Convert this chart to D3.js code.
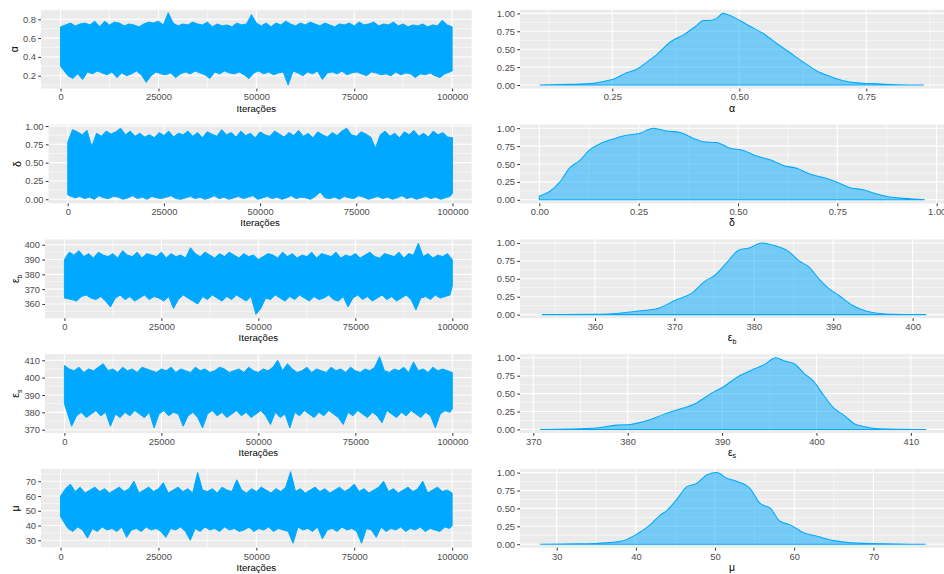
<!DOCTYPE html>
<html><head><meta charset="utf-8">
<script src="https://cdn.jsdelivr.net/npm/d3@7"></script>
<style>
body{margin:0;background:#fff}
svg{display:block}
text{font-family:"Liberation Sans",Arial,Helvetica,sans-serif}
</style>
</head><body>
<svg id="chart" width="944" height="574"></svg>
<script>
// ---------------- data ----------------
const iterTicks = [0, 25000, 50000, 75000, 100000];
const iterTitle = "Iterações";

// trace envelopes (upper / lower extremes per block of iterations)
const alphaHi = [0.72,0.74,0.76,0.73,0.75,0.76,0.74,0.78,0.72,0.78,
 0.74,0.77,0.76,0.73,0.75,0.74,0.72,0.75,0.77,0.76,
 0.78,0.74,0.87,0.76,0.73,0.75,0.74,0.77,0.75,0.74,
 0.77,0.72,0.75,0.73,0.74,0.72,0.76,0.74,0.75,0.85,
 0.76,0.73,0.76,0.72,0.76,0.74,0.78,0.75,0.73,0.76,
 0.74,0.77,0.75,0.73,0.76,0.74,0.72,0.75,0.74,0.76,
 0.73,0.77,0.74,0.75,0.77,0.73,0.75,0.74,0.77,0.73,
 0.75,0.72,0.74,0.73,0.75,0.72,0.74,0.73,0.79,0.74,0.72];
const alphaLo = [0.30,0.20,0.17,0.22,0.16,0.24,0.22,0.25,0.23,0.21,
 0.24,0.18,0.23,0.20,0.22,0.25,0.21,0.13,0.20,0.24,
 0.22,0.21,0.23,0.18,0.22,0.24,0.22,0.25,0.23,0.21,
 0.17,0.24,0.22,0.25,0.23,0.22,0.24,0.21,0.17,0.23,
 0.25,0.22,0.24,0.21,0.23,0.24,0.10,0.25,0.23,0.20,
 0.24,0.22,0.25,0.16,0.23,0.24,0.22,0.25,0.21,0.23,
 0.24,0.22,0.20,0.24,0.23,0.21,0.22,0.20,0.24,0.21,
 0.23,0.22,0.18,0.22,0.21,0.23,0.20,0.18,0.22,0.24,0.25];

const deltaHi = [0.78,0.95,0.92,0.88,0.94,0.72,0.90,0.86,0.93,0.89,
 0.92,0.97,0.88,0.93,0.86,0.90,0.85,0.88,0.84,0.91,
 0.87,0.93,0.85,0.90,0.88,0.93,0.86,0.91,0.84,0.92,
 0.89,0.86,0.95,0.88,0.91,0.85,0.93,0.87,0.90,0.84,
 0.92,0.88,0.86,0.93,0.89,0.85,0.91,0.87,0.94,0.86,
 0.90,0.84,0.92,0.88,0.85,0.91,0.87,0.93,0.97,0.88,
 0.86,0.92,0.89,0.85,0.70,0.88,0.93,0.86,0.90,0.84,
 0.92,0.88,0.94,0.86,0.90,0.85,0.93,0.88,0.91,0.85,0.84];
const deltaLo = [0.06,0.02,0.04,0.01,0.03,0.00,0.05,0.02,0.01,0.04,
 0.03,0.00,0.02,0.05,0.01,0.03,0.00,0.04,0.02,0.01,
 0.03,0.05,0.01,0.00,0.02,0.04,0.01,0.03,0.00,0.02,
 0.05,0.01,0.03,0.00,0.02,0.04,0.01,0.03,0.05,0.00,
 0.02,0.04,0.01,0.03,0.00,0.02,0.05,0.01,0.03,0.02,
 0.00,0.04,0.10,0.02,0.01,0.03,0.00,0.04,0.02,0.01,
 0.05,0.03,0.00,0.02,0.04,0.01,0.03,0.00,0.02,0.05,
 0.01,0.03,0.00,0.02,0.04,0.01,0.03,0.00,0.02,0.04,0.08];

const epsBHi = [390,395,393,396,392,394,391,395,393,392,
 394,391,396,393,392,395,391,394,393,392,
 395,391,394,392,393,391,398,394,392,395,
 393,391,394,392,395,393,391,394,392,393,
 390,392,394,393,391,395,392,394,391,393,
 392,395,391,394,393,392,395,391,393,392,
 394,391,393,395,392,391,394,393,392,395,
 391,394,393,401,392,394,391,393,392,394,390];
const epsBLo = [364,363,362,365,366,364,363,365,362,358,
 364,366,363,365,362,364,366,363,365,364,
 362,365,357,363,366,364,362,360,365,363,
 366,364,362,365,363,366,364,362,365,353,
 357,364,363,366,364,362,365,363,366,364,
 362,365,363,364,366,363,362,365,358,364,
 366,363,365,362,364,366,363,365,362,364,
 366,363,356,364,365,363,366,364,365,366,372];

const epsSHi = [407,405,404,406,403,405,404,406,408,404,
 405,403,406,404,405,403,406,405,404,403,
 405,404,406,403,405,404,403,406,404,405,
 403,404,406,405,403,404,405,403,406,404,
 403,405,404,406,410,404,408,405,403,404,
 406,403,405,404,403,406,404,405,403,406,
 404,403,405,404,406,412,404,403,405,404,
 406,403,409,404,405,403,406,404,405,404,403];
const epsSLo = [385,372,378,380,377,379,381,378,380,372,
 379,377,380,378,381,379,377,380,371,379,
 381,378,380,379,372,378,380,377,371,379,
 381,378,380,377,379,381,378,380,377,379,
 381,378,373,380,377,379,371,380,378,381,
 379,377,380,378,381,379,377,373,380,378,
 381,379,377,380,378,374,381,379,377,380,
 378,381,379,377,380,378,371,379,381,380,382];

const muHi = [60,65,68,63,66,62,64,66,63,65,
 62,64,66,63,65,70,62,64,66,63,
 65,69,62,64,66,63,65,62,76,64,
 63,65,62,66,64,63,71,64,62,65,
 63,66,64,62,65,63,66,76.5,63,65,
 62,64,66,63,65,62,64,66,63,65,
 68,63,65,62,64,66,70,63,65,62,
 64,66,63,65,70,62,64,66,63,64,62];
const muLo = [46,38,36,39,37,31.5,38,36,39,37,
 38,36,39,32,37,38,36,39,37,38,
 36,32,38,37,39,36,30,38,36,39,
 37,38,36,39,37,38,36,37,39,36,
 38,37,39,36,38,37,36,28,39,37,
 38,36,39,31,37,38,36,39,37,38,
 36,28,38,37,32,39,36,38,37,39,
 36,38,37,39,36,38,37,36,39,38,40];

// scaled densities (max = 1)
const alphaDensX = [0.107,0.167,0.206,0.232,0.252,0.278,0.298,0.318,0.337,0.364,0.390,0.416,0.429,0.442,0.455,0.468,0.482,0.501,0.521,0.547,0.574,0.600,0.626,0.652,0.679,0.705,0.731,0.757,0.810,0.863];
const alphaDensY = [0,0.01,0.02,0.05,0.08,0.17,0.22,0.32,0.42,0.60,0.70,0.83,0.90,0.90,0.93,1.00,0.97,0.90,0.82,0.72,0.58,0.45,0.32,0.20,0.12,0.06,0.03,0.02,0.005,0];

const deltaDensX = [0,0.027,0.052,0.077,0.102,0.127,0.152,0.186,0.219,0.253,0.287,0.320,0.354,0.387,0.413,0.446,0.480,0.514,0.547,0.581,0.614,0.648,0.681,0.715,0.748,0.782,0.815,0.849,0.882,0.916,0.970];
const deltaDensY = [0.05,0.12,0.25,0.45,0.55,0.70,0.78,0.85,0.90,0.93,1.00,0.96,0.94,0.86,0.81,0.80,0.72,0.69,0.61,0.56,0.48,0.44,0.36,0.31,0.25,0.17,0.14,0.08,0.04,0.02,0];

const epsBDensX = [353.3,360.5,363,365.5,368,370.1,372.2,373.9,375.1,376.4,378.1,379.4,381.0,382.7,384.4,385.7,386.9,388.2,389.5,390.7,392.4,394.1,396.6,401.7];
const epsBDensY = [0,0.005,0.02,0.05,0.09,0.20,0.30,0.47,0.55,0.70,0.90,0.93,1.00,0.96,0.88,0.75,0.67,0.50,0.36,0.27,0.13,0.05,0.01,0];

const epsSDensX = [370.7,373.9,376.7,378.8,380.3,382.0,383.8,385.2,387.3,388.8,390.2,391.6,393.0,394.4,395.7,396.7,397.6,398.7,399.7,400.8,401.9,402.9,404.0,405.0,406.5,411.6];
const epsSDensY = [0,0.005,0.02,0.06,0.07,0.12,0.21,0.27,0.37,0.50,0.60,0.73,0.82,0.90,1.00,0.95,0.92,0.78,0.67,0.47,0.29,0.20,0.08,0.04,0.01,0];

const muDensX = [27.9,32.9,36.3,38.4,40.1,41.8,43.0,43.9,45.2,46.4,47.7,49.0,50.2,51.5,52.7,54.4,55.7,57.0,58.2,59.5,61.2,62.9,65.0,67.1,71.3,76.6];
const muDensY = [0,0.005,0.02,0.05,0.14,0.27,0.40,0.47,0.63,0.80,0.85,0.97,1.00,0.92,0.88,0.78,0.57,0.50,0.32,0.27,0.16,0.11,0.05,0.02,0.005,0];

const densYTicks = [0, 0.25, 0.5, 0.75, 1];
const alphaTicks = [0.2, 0.4, 0.6, 0.8];
const deltaTicks = [0, 0.25, 0.5, 0.75, 1];
const epsBTicks = [360, 370, 380, 390, 400];
const epsSTicks = [370, 380, 390, 400, 410];
const muTicks = [30, 40, 50, 60, 70];
const alphaDensTicks = [0.25, 0.5, 0.75];
const deltaDensTicks = [0, 0.25, 0.5, 0.75, 1];

// ---------------- layout / panels ----------------
const COLOR = "#00A9FF";
const rowH = 114.8, padTop = 9.8, padBot = 88.6;
const traceRight = 471.7, densLeft = 520, densRight = 944;

const panels = [
  {sym:"α", sub:null, hi:alphaHi, lo:alphaLo, tyDom:[0.063,0.901], tyTicks:alphaTicks, tyFmt:".1f", tLeft:41, yTitleX:15,
   dx:alphaDensX, dy:alphaDensY, dxDom:[0.0683,0.903], dxTicks:alphaDensTicks, dxFmt:".2f"},
  {sym:"δ", sub:null, hi:deltaHi, lo:deltaLo, tyDom:[-0.056,1.019], tyTicks:deltaTicks, tyFmt:".2f", tLeft:48.5, yTitleX:18,
   dx:deltaDensX, dy:deltaDensY, dxDom:[-0.0486,1.0184], dxTicks:deltaDensTicks, dxFmt:".2f"},
  {sym:"ε", sub:"b", hi:epsBHi, lo:epsBLo, tyDom:[350.4,403.6], tyTicks:epsBTicks, tyFmt:"d", tLeft:45, yTitleX:16,
   dx:epsBDensX, dy:epsBDensY, dxDom:[350.56,403.95], dxTicks:epsBTicks, dxFmt:"d"},
  {sym:"ε", sub:"s", hi:epsSHi, lo:epsSLo, tyDom:[368.1,413.5], tyTicks:epsSTicks, tyFmt:"d", tLeft:45, yTitleX:16,
   dx:epsSDensX, dy:epsSDensY, dxDom:[368.59,413.51], dxTicks:epsSTicks, dxFmt:"d"},
  {sym:"μ", sub:null, hi:muHi, lo:muLo, tyDom:[24.9,78.3], tyTicks:muTicks, tyFmt:"d", tLeft:41, yTitleX:16,
   dx:muDensX, dy:muDensY, dxDom:[25.36,78.92], dxTicks:muTicks, dxFmt:"d"}
];

const svg = d3.select("#chart");
const TICK_FS = 9.4, TITLE_FS = 9.6;

function minorOf(ticks, dom) {
  const lo = Math.min(...dom), hi = Math.max(...dom);
  const step = ticks[1] - ticks[0];
  const out = [];
  out.push(ticks[0] - step/2);
  for (let i = 0; i < ticks.length - 1; i++) out.push((ticks[i] + ticks[i+1]) / 2);
  out.push(ticks[ticks.length-1] + step/2);
  return out.filter(v => v >= lo && v <= hi);
}

function drawPanel(g, x, y, xTicks, yTicks, xFmt, yFmt) {
  const [x0, x1] = x.range(), [y1, y0] = y.range();
  g.append("rect").attr("x", x0).attr("y", y0).attr("width", x1 - x0).attr("height", y1 - y0).attr("fill", "#EBEBEB");
  const grid = g.append("g");
  minorOf(yTicks, y.domain()).forEach(v => grid.append("line").attr("x1", x0).attr("x2", x1).attr("y1", y(v)).attr("y2", y(v)).attr("stroke", "#fff").attr("stroke-width", 0.55));
  minorOf(xTicks, x.domain()).forEach(v => grid.append("line").attr("y1", y0).attr("y2", y1).attr("x1", x(v)).attr("x2", x(v)).attr("stroke", "#fff").attr("stroke-width", 0.55));
  yTicks.forEach(v => grid.append("line").attr("x1", x0).attr("x2", x1).attr("y1", y(v)).attr("y2", y(v)).attr("stroke", "#fff").attr("stroke-width", 1.1));
  xTicks.forEach(v => grid.append("line").attr("y1", y0).attr("y2", y1).attr("x1", x(v)).attr("x2", x(v)).attr("stroke", "#fff").attr("stroke-width", 1.1));

  const ax = g.append("g").attr("transform", `translate(0,${y1})`)
    .call(d3.axisBottom(x).tickValues(xTicks).tickFormat(d3.format(xFmt)).tickSize(2.75).tickPadding(2.4));
  const ay = g.append("g").attr("transform", `translate(${x0},0)`)
    .call(d3.axisLeft(y).tickValues(yTicks).tickFormat(d3.format(yFmt)).tickSize(2.75).tickPadding(2.2));
  [ax, ay].forEach(a => {
    a.select(".domain").remove();
    a.selectAll(".tick line").attr("stroke", "#333333").attr("stroke-width", 1);
    a.selectAll(".tick text").attr("fill", "#4D4D4D").style("font-size", TICK_FS + "px")
      .style("font-family", '"Liberation Sans",Arial,sans-serif');
  });
}

function addLabel(sel, p) {
  sel.append("tspan").text(p.sym);
  if (p.sub) sel.append("tspan").attr("dy", 2.5).style("font-size", "7px").text(p.sub);
}

panels.forEach((p, r) => {
  const top = r * rowH + padTop, bot = r * rowH + padBot;
  const g = svg.append("g");

  // ---- trace panel ----
  const xT = d3.scaleLinear().domain([-5000, 105000]).range([p.tLeft, traceRight]);
  const yT = d3.scaleLinear().domain(p.tyDom).range([bot, top]);
  drawPanel(g, xT, yT, iterTicks, p.tyTicks, "d", p.tyFmt);

  const n = Math.min(p.hi.length, p.lo.length);
  const step = 100000 / (n - 1);
  const upper = [], lower = [];
  for (let i = 0; i < n; i++) {
    upper.push([i * step, p.hi[i]]);
    lower.push([Math.min(i * step + step / 2, 100000), p.lo[i]]);
  }
  lower[0][0] = 0;
  const poly = upper.concat(lower.slice().reverse());
  g.append("path").datum(poly)
    .attr("d", d3.line().x(d => xT(d[0])).y(d => yT(d[1])) + "")
    .attr("d", d3.line().x(d => xT(d[0])).y(d => yT(d[1]))(poly) + "Z")
    .attr("fill", COLOR).attr("stroke", COLOR).attr("stroke-width", 1).attr("stroke-linejoin", "miter").attr("stroke-miterlimit", 10);

  g.append("text").attr("x", (p.tLeft + traceRight) / 2).attr("y", r * rowH + 111.5)
    .attr("text-anchor", "middle").style("font-size", TITLE_FS + "px").attr("fill", "#000").text(iterTitle);
  const yt = g.append("text").attr("transform", `translate(${p.yTitleX + 3},${(top + bot) / 2}) rotate(-90)`)
    .attr("text-anchor", "middle").style("font-size", "10.5px").attr("fill", "#000");
  addLabel(yt, p);

  // ---- density panel ----
  const xD = d3.scaleLinear().domain(p.dxDom).range([densLeft, densRight]);
  const yD = d3.scaleLinear().domain([-0.05, 1.05]).range([bot, top]);
  drawPanel(g, xD, yD, p.dxTicks, densYTicks, p.dxFmt, ".2f");

  const dpts = p.dx.map((v, i) => [v, p.dy[i]]);
  g.append("path").datum(dpts)
    .attr("d", d3.area().curve(d3.curveMonotoneX).x(d => xD(d[0])).y0(yD(0)).y1(d => yD(d[1])))
    .attr("fill", COLOR).attr("fill-opacity", 0.5)
    .attr("stroke", COLOR).attr("stroke-width", 1.05);

  const xt = g.append("text").attr("x", (densLeft + densRight) / 2).attr("y", r * rowH + 111.5)
    .attr("text-anchor", "middle").style("font-size", "10.5px").attr("fill", "#000");
  addLabel(xt, p);
});
</script>
</body></html>
